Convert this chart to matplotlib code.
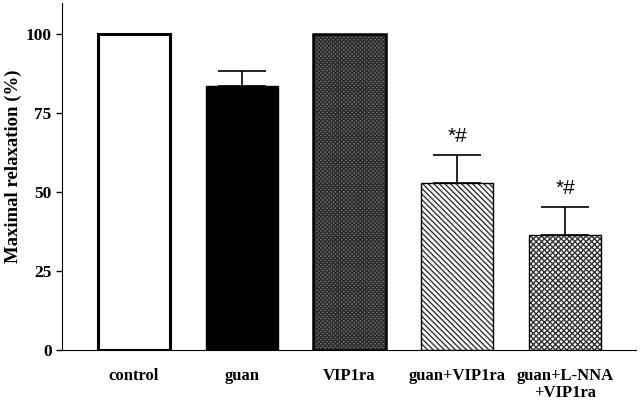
import matplotlib.pyplot as plt
import numpy as np

plt.rcParams['font.family'] = ['Liberation Serif', 'DejaVu Serif']
plt.rcParams['font.weight'] = 'bold'

# data
groups = ["control", "guan", "VIP1ra", "guan+VIP1ra", "guan+L-NNA\n+VIP1ra"]
relax = [100, 83.6, 100, 52.9, 36.4]
sem = [0, 4.7, 0, 8.9, 8.9]
marks = ["", "", "", "*#", "*#"]

fig = plt.figure(figsize=(6.4, 4.01), dpi=100)
ax = fig.add_axes([0.097, 0.127, 0.897, 0.866])
x = np.arange(len(groups))
w = 0.67

# fills / hatches
ax.bar(x[0], relax[0], w, color='white', edgecolor='black', linewidth=2.2, zorder=2)
ax.bar(x[1], relax[1], w, color='black', edgecolor='black', linewidth=1, zorder=2)
ax.bar(x[2], relax[2], w, color='#6a6a6a', edgecolor='#2e2e2e', hatch='xxxxxxxx',
       linewidth=0, zorder=2)
ax.bar(x[2], relax[2], w, fill=False, edgecolor='black', linewidth=1.8, zorder=3)
ax.bar(x[3], relax[3], w, color='white', edgecolor='#333333', hatch='\\\\\\\\\\\\',
       linewidth=0, zorder=2)
ax.bar(x[3], relax[3], w, fill=False, edgecolor='black', linewidth=1, zorder=3)
ax.bar(x[4], relax[4], w, color='white', edgecolor='#333333', hatch='xxxxxx',
       linewidth=0, zorder=2)
ax.bar(x[4], relax[4], w, fill=False, edgecolor='black', linewidth=1, zorder=3)

# upward-only error bars
for i in range(len(groups)):
    if sem[i] > 0:
        ax.errorbar(x[i], relax[i], yerr=[[0], [sem[i]]], fmt='none',
                    ecolor='black', elinewidth=1.2, capsize=17, capthick=1.2, zorder=1)
    if marks[i]:
        ax.text(x[i], relax[i] + sem[i] + 3, marks[i], ha='center', va='bottom',
                fontsize=15, fontweight='normal', family=['Liberation Sans'])

ax.set_xlim(-0.667, 4.66)
ax.set_ylim(0, 110)
ax.set_yticks([0, 25, 50, 75, 100])
ax.set_xticks(x)
ax.set_xticklabels(groups, fontsize=12, fontweight='bold', linespacing=1.1)
ax.tick_params(axis='x', length=0, pad=13)
ax.tick_params(axis='y', labelsize=12.5, length=4, width=1)
ax.set_ylabel('Maximal relaxation (%)', fontsize=13.5, fontweight='bold')
ax.yaxis.set_label_coords(-0.07, 0.53)
ax.spines['top'].set_visible(False)
ax.spines['right'].set_visible(False)

fig.savefig('out.png', dpi=100)
